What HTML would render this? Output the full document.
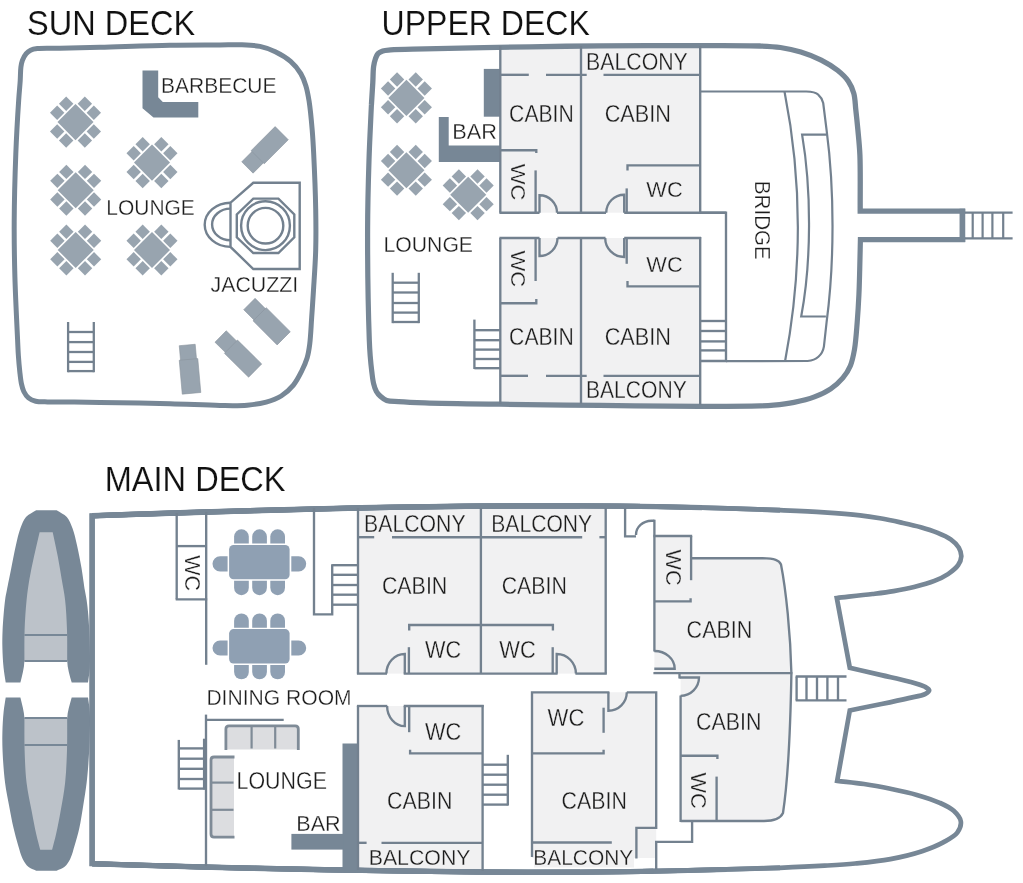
<!DOCTYPE html>
<html><head><meta charset="utf-8"><title>Deck plan</title>
<style>html,body{margin:0;padding:0;background:#fff;}svg{display:block;filter:blur(0.3px);}text{font-family:"Liberation Sans",sans-serif;filter:grayscale(1);}</style>
</head><body>
<svg width="1023" height="883" viewBox="0 0 1023 883" >
<rect x="0" y="0" width="1023" height="883" fill="#ffffff"/>
<path d="M37.4,48.6 C42.71,47.95 51.4,48.46 60,48.3 C71.44,48.08 84.81,47.72 100,47.3 C120.09,46.75 148.62,45.58 170,45.2 C188.06,44.87 207.01,45 220,44.9 C228.3,44.83 233.67,44.44 240.4,44.7 C247,44.95 253.94,45.11 260,46.4 C265.49,47.57 270.34,49.31 275.3,51.7 C280.55,54.23 286.26,57.6 290.6,61.4 C294.67,64.96 298.21,69.32 300.8,73.6 C303.17,77.52 304.54,81.51 305.9,85.9 C307.37,90.66 308.16,95.27 309.1,101.2 C310.37,109.27 311.42,120.83 312.2,130 C312.91,138.36 313.22,144.36 313.7,154 C314.42,168.58 315.39,192.01 315.7,209 C315.97,223.67 316.07,236.42 315.7,250 C315.33,263.42 314.23,277.95 313.5,290 C312.9,299.94 312.33,308.13 311.7,317.2 C311.07,326.27 310.69,336.91 309.7,344.4 C309,349.74 308.44,353.54 307.1,358 C305.73,362.58 303.72,367.07 301.5,371.5 C299.19,376.11 296.74,381.04 293.4,385.1 C290,389.23 285.75,393.16 281.2,396 C276.68,398.82 271.59,400.59 266.2,402.1 C260.33,403.75 254.12,404.6 247.2,405.2 C238.97,405.91 230.43,405.63 220,405.5 C205.85,405.32 188.07,404.18 170,403.7 C148.63,403.13 118.46,402.81 100,402.5 C87.91,402.3 79.27,402.1 70,402 C61.99,401.92 53.89,402.07 47.6,401.9 C43.01,401.77 39.1,402.15 35.7,401.3 C32.92,400.6 30.48,399.54 28.5,397.9 C26.52,396.27 24.98,393.86 23.8,391.5 C22.6,389.1 22.04,386.53 21.4,383.6 C20.63,380.07 20.27,375.95 19.8,371.7 C19.26,366.81 18.77,361.18 18.4,355.9 C18.03,350.61 17.93,347.06 17.6,340 C16.95,325.96 15.46,297.29 14.9,277 C14.37,258.05 14.1,241.3 14.2,222 C14.32,200.53 14.98,175.36 15.8,154 C16.54,134.96 17.81,113.44 18.7,100 C19.23,91.98 19.82,86.65 20.2,80.8 C20.52,75.88 20.4,70.94 20.9,67.2 C21.26,64.53 21.56,62.61 22.4,60.4 C23.29,58.07 24.68,55.37 26.2,53.6 C27.49,52.11 28.87,51.02 30.6,50.2 C32.54,49.28 34.45,48.96 37.4,48.6Z" fill="none" stroke="#778796" stroke-width="5" stroke-linejoin="round" stroke-linecap="butt"/>
<text x="27.1" y="34.5" font-size="34.67" textLength="168" lengthAdjust="spacingAndGlyphs" fill="#111" stroke="#ffffff" stroke-width="0.15">SUN DECK</text>
<polygon points="142.5,70.6 158.2,70.6 158.2,97.2 162.8,101.9 198.3,101.9 198.3,117.6 153.5,117.6 142.5,108.2" fill="#778796"/>
<text x="161" y="93" font-size="22.8" textLength="115.5" lengthAdjust="spacingAndGlyphs" fill="#1c1c1c" stroke="#ffffff" stroke-width="0.3">BARBECUE</text>
<g transform="translate(75.5,122.1) rotate(45)" fill="#98a4af">
<rect x="-12.75" y="-12.75" width="25.5" height="25.5" fill="#98a4af" stroke="none" stroke-width="0" rx="0"/>
<rect x="14.45" y="1.25" width="10.2" height="10.2" fill="#98a4af" stroke="none" stroke-width="0" rx="0"/>
<rect x="14.45" y="-11.45" width="10.2" height="10.2" fill="#98a4af" stroke="none" stroke-width="0" rx="0"/>
<rect x="-24.65" y="1.25" width="10.2" height="10.2" fill="#98a4af" stroke="none" stroke-width="0" rx="0"/>
<rect x="-24.65" y="-11.45" width="10.2" height="10.2" fill="#98a4af" stroke="none" stroke-width="0" rx="0"/>
<rect x="1.25" y="14.45" width="10.2" height="10.2" fill="#98a4af" stroke="none" stroke-width="0" rx="0"/>
<rect x="-11.45" y="14.45" width="10.2" height="10.2" fill="#98a4af" stroke="none" stroke-width="0" rx="0"/>
<rect x="1.25" y="-24.65" width="10.2" height="10.2" fill="#98a4af" stroke="none" stroke-width="0" rx="0"/>
<rect x="-11.45" y="-24.65" width="10.2" height="10.2" fill="#98a4af" stroke="none" stroke-width="0" rx="0"/>
</g>
<g transform="translate(75.7,190.2) rotate(45)" fill="#98a4af">
<rect x="-12.75" y="-12.75" width="25.5" height="25.5" fill="#98a4af" stroke="none" stroke-width="0" rx="0"/>
<rect x="14.45" y="1.25" width="10.2" height="10.2" fill="#98a4af" stroke="none" stroke-width="0" rx="0"/>
<rect x="14.45" y="-11.45" width="10.2" height="10.2" fill="#98a4af" stroke="none" stroke-width="0" rx="0"/>
<rect x="-24.65" y="1.25" width="10.2" height="10.2" fill="#98a4af" stroke="none" stroke-width="0" rx="0"/>
<rect x="-24.65" y="-11.45" width="10.2" height="10.2" fill="#98a4af" stroke="none" stroke-width="0" rx="0"/>
<rect x="1.25" y="14.45" width="10.2" height="10.2" fill="#98a4af" stroke="none" stroke-width="0" rx="0"/>
<rect x="-11.45" y="14.45" width="10.2" height="10.2" fill="#98a4af" stroke="none" stroke-width="0" rx="0"/>
<rect x="1.25" y="-24.65" width="10.2" height="10.2" fill="#98a4af" stroke="none" stroke-width="0" rx="0"/>
<rect x="-11.45" y="-24.65" width="10.2" height="10.2" fill="#98a4af" stroke="none" stroke-width="0" rx="0"/>
</g>
<g transform="translate(75.7,250) rotate(45)" fill="#98a4af">
<rect x="-12.75" y="-12.75" width="25.5" height="25.5" fill="#98a4af" stroke="none" stroke-width="0" rx="0"/>
<rect x="14.45" y="1.25" width="10.2" height="10.2" fill="#98a4af" stroke="none" stroke-width="0" rx="0"/>
<rect x="14.45" y="-11.45" width="10.2" height="10.2" fill="#98a4af" stroke="none" stroke-width="0" rx="0"/>
<rect x="-24.65" y="1.25" width="10.2" height="10.2" fill="#98a4af" stroke="none" stroke-width="0" rx="0"/>
<rect x="-24.65" y="-11.45" width="10.2" height="10.2" fill="#98a4af" stroke="none" stroke-width="0" rx="0"/>
<rect x="1.25" y="14.45" width="10.2" height="10.2" fill="#98a4af" stroke="none" stroke-width="0" rx="0"/>
<rect x="-11.45" y="14.45" width="10.2" height="10.2" fill="#98a4af" stroke="none" stroke-width="0" rx="0"/>
<rect x="1.25" y="-24.65" width="10.2" height="10.2" fill="#98a4af" stroke="none" stroke-width="0" rx="0"/>
<rect x="-11.45" y="-24.65" width="10.2" height="10.2" fill="#98a4af" stroke="none" stroke-width="0" rx="0"/>
</g>
<g transform="translate(152,162.6) rotate(45)" fill="#98a4af">
<rect x="-12.75" y="-12.75" width="25.5" height="25.5" fill="#98a4af" stroke="none" stroke-width="0" rx="0"/>
<rect x="14.45" y="1.25" width="10.2" height="10.2" fill="#98a4af" stroke="none" stroke-width="0" rx="0"/>
<rect x="14.45" y="-11.45" width="10.2" height="10.2" fill="#98a4af" stroke="none" stroke-width="0" rx="0"/>
<rect x="-24.65" y="1.25" width="10.2" height="10.2" fill="#98a4af" stroke="none" stroke-width="0" rx="0"/>
<rect x="-24.65" y="-11.45" width="10.2" height="10.2" fill="#98a4af" stroke="none" stroke-width="0" rx="0"/>
<rect x="1.25" y="14.45" width="10.2" height="10.2" fill="#98a4af" stroke="none" stroke-width="0" rx="0"/>
<rect x="-11.45" y="14.45" width="10.2" height="10.2" fill="#98a4af" stroke="none" stroke-width="0" rx="0"/>
<rect x="1.25" y="-24.65" width="10.2" height="10.2" fill="#98a4af" stroke="none" stroke-width="0" rx="0"/>
<rect x="-11.45" y="-24.65" width="10.2" height="10.2" fill="#98a4af" stroke="none" stroke-width="0" rx="0"/>
</g>
<g transform="translate(152,250) rotate(45)" fill="#98a4af">
<rect x="-12.75" y="-12.75" width="25.5" height="25.5" fill="#98a4af" stroke="none" stroke-width="0" rx="0"/>
<rect x="14.45" y="1.25" width="10.2" height="10.2" fill="#98a4af" stroke="none" stroke-width="0" rx="0"/>
<rect x="14.45" y="-11.45" width="10.2" height="10.2" fill="#98a4af" stroke="none" stroke-width="0" rx="0"/>
<rect x="-24.65" y="1.25" width="10.2" height="10.2" fill="#98a4af" stroke="none" stroke-width="0" rx="0"/>
<rect x="-24.65" y="-11.45" width="10.2" height="10.2" fill="#98a4af" stroke="none" stroke-width="0" rx="0"/>
<rect x="1.25" y="14.45" width="10.2" height="10.2" fill="#98a4af" stroke="none" stroke-width="0" rx="0"/>
<rect x="-11.45" y="14.45" width="10.2" height="10.2" fill="#98a4af" stroke="none" stroke-width="0" rx="0"/>
<rect x="1.25" y="-24.65" width="10.2" height="10.2" fill="#98a4af" stroke="none" stroke-width="0" rx="0"/>
<rect x="-11.45" y="-24.65" width="10.2" height="10.2" fill="#98a4af" stroke="none" stroke-width="0" rx="0"/>
</g>
<text x="106.3" y="215.3" font-size="22.34" textLength="88.5" lengthAdjust="spacingAndGlyphs" fill="#1c1c1c" stroke="#ffffff" stroke-width="0.3">LOUNGE</text>
<path d="M299.7,182.8 L253.3,182.8 L230.5,202.7 L230.5,246.9 L253.3,269 L299.7,269 Z" fill="none" stroke="#73818f" stroke-width="2.4" stroke-linejoin="miter" stroke-linecap="butt"/>
<polygon points="253.3,198.6 278.4,198.6 294.3,214.5 294.3,237.3 278.4,253 253.3,253 236.8,237.3 236.8,214.5" fill="none" stroke="#73818f" stroke-width="2.4"/>
<circle cx="265.5" cy="225.7" r="24.4" fill="none" stroke="#73818f" stroke-width="2.4"/>
<circle cx="265.5" cy="225.7" r="17.8" fill="none" stroke="#73818f" stroke-width="2.4"/>
<path d="M230.5,202.7 A25.8,22.1 0 0 0 230.5,246.9" fill="none" stroke="#73818f" stroke-width="2.4" stroke-linejoin="round" stroke-linecap="butt"/>
<path d="M230.5,208.6 A18.4,15.85 0 0 0 230.5,240.3" fill="none" stroke="#73818f" stroke-width="2.4" stroke-linejoin="round" stroke-linecap="butt"/>
<text x="210.5" y="291.5" font-size="22.8" textLength="87.8" lengthAdjust="spacingAndGlyphs" fill="#1c1c1c" stroke="#ffffff" stroke-width="0.3">JACUZZI</text>
<g transform="translate(247.2,167.7) rotate(-45)" fill="#98a4af" stroke="#8a949e" stroke-width="0.6">
<rect x="0.3" y="-8" width="15.5" height="16"/>
<rect x="14.8" y="-9.3" width="34" height="18.6"/>
</g>
<g transform="translate(249.2,303.8) rotate(45)" fill="#98a4af" stroke="#8a949e" stroke-width="0.6">
<rect x="0.3" y="-8" width="15.5" height="16"/>
<rect x="14.8" y="-9.3" width="34" height="18.6"/>
</g>
<g transform="translate(220.4,336.3) rotate(44.6)" fill="#98a4af" stroke="#8a949e" stroke-width="0.6">
<rect x="0.3" y="-8" width="15.5" height="16"/>
<rect x="14.8" y="-9.3" width="34" height="18.6"/>
</g>
<g transform="translate(187.2,344.7) rotate(84.9)" fill="#98a4af" stroke="#8a949e" stroke-width="0.6">
<rect x="0.3" y="-8" width="15.5" height="16"/>
<rect x="14.8" y="-9.3" width="34" height="18.6"/>
</g>
<line x1="68.1" y1="322" x2="68.1" y2="372.25" stroke="#73818f" stroke-width="2.3" stroke-linecap="butt"/>
<line x1="93.8" y1="322" x2="93.8" y2="372.25" stroke="#73818f" stroke-width="2.3" stroke-linecap="butt"/>
<line x1="68.1" y1="332" x2="93.8" y2="332" stroke="#73818f" stroke-width="2.3" stroke-linecap="butt"/>
<line x1="68.1" y1="342.1" x2="93.8" y2="342.1" stroke="#73818f" stroke-width="2.3" stroke-linecap="butt"/>
<line x1="68.1" y1="352" x2="93.8" y2="352" stroke="#73818f" stroke-width="2.3" stroke-linecap="butt"/>
<line x1="68.1" y1="361.9" x2="93.8" y2="361.9" stroke="#73818f" stroke-width="2.3" stroke-linecap="butt"/>
<line x1="68.1" y1="371.1" x2="93.8" y2="371.1" stroke="#73818f" stroke-width="2.3" stroke-linecap="butt"/>
<rect x="500.3" y="46" width="200" height="166.7" fill="#f1f1f2" stroke="none" stroke-width="0" rx="0"/>
<rect x="500.3" y="238" width="200" height="167" fill="#f1f1f2" stroke="none" stroke-width="0" rx="0"/>
<path d="M371.4,105 C371.87,97.53 372.41,89.43 372.8,82.6 C373.12,76.85 373,71.06 373.6,66.7 C374.03,63.59 374.57,61.12 375.4,58.8 C376.1,56.84 376.74,54.92 378,53.6 C379.23,52.31 380.93,51.52 382.8,50.9 C385.05,50.16 387.13,50.18 390.7,49.9 C398.11,49.32 410.45,49.26 425,48.9 C450.46,48.27 498.53,47.32 530,46.8 C555.69,46.38 574.59,46.1 600,45.9 C630.37,45.66 670.9,45.55 700,45.6 C722.54,45.64 745.27,45.41 760,46 C768.6,46.34 773.64,46.51 780.4,47.5 C787.24,48.5 794.08,49.94 800.8,52 C807.69,54.11 814.91,56.92 821.2,60.1 C827.08,63.08 832.81,66.55 837.5,70.3 C841.69,73.65 845.55,77.19 848.3,81.2 C850.87,84.94 852.55,88.94 853.8,93.4 C855.18,98.35 855.15,103.96 855.8,109.7 C856.52,116.12 857.25,122.96 857.9,130.1 C858.62,137.98 859.47,145.03 859.9,155 C860.54,169.94 860.1,192.4 860.2,211.1 L965.2,211.1 " fill="none" stroke="#778796" stroke-width="5.3" stroke-linejoin="miter" stroke-linecap="butt"/>
<path d="M965.2,239.6 L860.4,239.6 C860.17,249.73 859.97,260.36 859.7,270 C859.46,278.74 859.3,286.49 858.9,295 C858.48,303.88 857.93,313.14 857.2,322.2 C856.47,331.27 855.87,341.53 854.5,349.4 C853.42,355.57 852.46,360.8 850.4,365.7 C848.49,370.22 846.03,374.16 842.9,377.9 C839.55,381.9 835.29,385.69 830.7,388.8 C825.85,392.08 820.26,394.68 814.4,396.9 C808.09,399.29 800.84,401.01 794,402.4 C787.24,403.77 779.72,404.62 773.6,405.2 C768.62,405.67 766.15,405.72 760,405.9 C747.1,406.27 722.54,406.33 700,406.3 C670.9,406.27 633.33,405.75 600,405.4 C566.67,405.05 530.94,404.67 500,404.2 C473.2,403.79 443.62,403.4 425,402.8 C413.95,402.45 405.67,402.09 398.6,401.6 C393.85,401.27 389.93,401.64 386.7,400.5 C384.13,399.59 382.17,397.89 380.4,396.3 C378.79,394.86 377.49,393.41 376.4,391.5 C375.14,389.29 374.34,386.54 373.6,383.6 C372.72,380.08 372.34,375.95 371.8,371.7 C371.18,366.81 370.62,361.18 370.2,355.9 C369.78,350.61 369.58,347.68 369.3,340 C368.57,319.8 367.53,262.54 367.6,230 C367.66,204.04 368.3,181.92 369,160 C369.62,140.56 370.6,123.33 371.4,105 " fill="none" stroke="#778796" stroke-width="5.2" stroke-linejoin="miter" stroke-linecap="butt"/>
<line x1="962.4" y1="208.7" x2="962.4" y2="242" stroke="#778796" stroke-width="5.7" stroke-linecap="butt"/>
<line x1="965" y1="212.6" x2="1012.6" y2="212.6" stroke="#73818f" stroke-width="2.2" stroke-linecap="butt"/>
<line x1="965" y1="238.3" x2="1012.6" y2="238.3" stroke="#73818f" stroke-width="2.2" stroke-linecap="butt"/>
<line x1="972.7" y1="212.6" x2="972.7" y2="238.3" stroke="#73818f" stroke-width="2.2" stroke-linecap="butt"/>
<line x1="982.6" y1="212.6" x2="982.6" y2="238.3" stroke="#73818f" stroke-width="2.2" stroke-linecap="butt"/>
<line x1="992.4" y1="212.6" x2="992.4" y2="238.3" stroke="#73818f" stroke-width="2.2" stroke-linecap="butt"/>
<line x1="1003.2" y1="212.6" x2="1003.2" y2="238.3" stroke="#73818f" stroke-width="2.2" stroke-linecap="butt"/>
<text x="381.6" y="34.7" font-size="34.67" textLength="208.2" lengthAdjust="spacingAndGlyphs" fill="#111" stroke="#ffffff" stroke-width="0.15">UPPER DECK</text>
<g transform="translate(406.4,97.9) rotate(45)" fill="#98a4af">
<rect x="-12.75" y="-12.75" width="25.5" height="25.5" fill="#98a4af" stroke="none" stroke-width="0" rx="0"/>
<rect x="14.45" y="1.25" width="10.2" height="10.2" fill="#98a4af" stroke="none" stroke-width="0" rx="0"/>
<rect x="14.45" y="-11.45" width="10.2" height="10.2" fill="#98a4af" stroke="none" stroke-width="0" rx="0"/>
<rect x="-24.65" y="1.25" width="10.2" height="10.2" fill="#98a4af" stroke="none" stroke-width="0" rx="0"/>
<rect x="-24.65" y="-11.45" width="10.2" height="10.2" fill="#98a4af" stroke="none" stroke-width="0" rx="0"/>
<rect x="1.25" y="14.45" width="10.2" height="10.2" fill="#98a4af" stroke="none" stroke-width="0" rx="0"/>
<rect x="-11.45" y="14.45" width="10.2" height="10.2" fill="#98a4af" stroke="none" stroke-width="0" rx="0"/>
<rect x="1.25" y="-24.65" width="10.2" height="10.2" fill="#98a4af" stroke="none" stroke-width="0" rx="0"/>
<rect x="-11.45" y="-24.65" width="10.2" height="10.2" fill="#98a4af" stroke="none" stroke-width="0" rx="0"/>
</g>
<g transform="translate(406.4,170.3) rotate(45)" fill="#98a4af">
<rect x="-12.75" y="-12.75" width="25.5" height="25.5" fill="#98a4af" stroke="none" stroke-width="0" rx="0"/>
<rect x="14.45" y="1.25" width="10.2" height="10.2" fill="#98a4af" stroke="none" stroke-width="0" rx="0"/>
<rect x="14.45" y="-11.45" width="10.2" height="10.2" fill="#98a4af" stroke="none" stroke-width="0" rx="0"/>
<rect x="-24.65" y="1.25" width="10.2" height="10.2" fill="#98a4af" stroke="none" stroke-width="0" rx="0"/>
<rect x="-24.65" y="-11.45" width="10.2" height="10.2" fill="#98a4af" stroke="none" stroke-width="0" rx="0"/>
<rect x="1.25" y="14.45" width="10.2" height="10.2" fill="#98a4af" stroke="none" stroke-width="0" rx="0"/>
<rect x="-11.45" y="14.45" width="10.2" height="10.2" fill="#98a4af" stroke="none" stroke-width="0" rx="0"/>
<rect x="1.25" y="-24.65" width="10.2" height="10.2" fill="#98a4af" stroke="none" stroke-width="0" rx="0"/>
<rect x="-11.45" y="-24.65" width="10.2" height="10.2" fill="#98a4af" stroke="none" stroke-width="0" rx="0"/>
</g>
<g transform="translate(468.2,194.8) rotate(45)" fill="#98a4af">
<rect x="-12.75" y="-12.75" width="25.5" height="25.5" fill="#98a4af" stroke="none" stroke-width="0" rx="0"/>
<rect x="14.45" y="1.25" width="10.2" height="10.2" fill="#98a4af" stroke="none" stroke-width="0" rx="0"/>
<rect x="14.45" y="-11.45" width="10.2" height="10.2" fill="#98a4af" stroke="none" stroke-width="0" rx="0"/>
<rect x="-24.65" y="1.25" width="10.2" height="10.2" fill="#98a4af" stroke="none" stroke-width="0" rx="0"/>
<rect x="-24.65" y="-11.45" width="10.2" height="10.2" fill="#98a4af" stroke="none" stroke-width="0" rx="0"/>
<rect x="1.25" y="14.45" width="10.2" height="10.2" fill="#98a4af" stroke="none" stroke-width="0" rx="0"/>
<rect x="-11.45" y="14.45" width="10.2" height="10.2" fill="#98a4af" stroke="none" stroke-width="0" rx="0"/>
<rect x="1.25" y="-24.65" width="10.2" height="10.2" fill="#98a4af" stroke="none" stroke-width="0" rx="0"/>
<rect x="-11.45" y="-24.65" width="10.2" height="10.2" fill="#98a4af" stroke="none" stroke-width="0" rx="0"/>
</g>
<rect x="483.8" y="68.9" width="16.5" height="47.8" fill="#778796" stroke="none" stroke-width="0" rx="0"/>
<polygon points="438.8,117.1 448.7,117.1 448.7,145.4 500.3,145.4 500.3,162 438.8,162" fill="#778796"/>
<text x="452.2" y="139.1" font-size="22.65" textLength="44.7" lengthAdjust="spacingAndGlyphs" fill="#1c1c1c" stroke="#ffffff" stroke-width="0.3">BAR</text>
<text x="383.5" y="251.5" font-size="22.34" textLength="89.5" lengthAdjust="spacingAndGlyphs" fill="#1c1c1c" stroke="#ffffff" stroke-width="0.3">LOUNGE</text>
<line x1="392.7" y1="272.8" x2="392.7" y2="323.15" stroke="#73818f" stroke-width="2.3" stroke-linecap="butt"/>
<line x1="418.8" y1="272.8" x2="418.8" y2="323.15" stroke="#73818f" stroke-width="2.3" stroke-linecap="butt"/>
<line x1="392.7" y1="282.7" x2="418.8" y2="282.7" stroke="#73818f" stroke-width="2.3" stroke-linecap="butt"/>
<line x1="392.7" y1="292.5" x2="418.8" y2="292.5" stroke="#73818f" stroke-width="2.3" stroke-linecap="butt"/>
<line x1="392.7" y1="303" x2="418.8" y2="303" stroke="#73818f" stroke-width="2.3" stroke-linecap="butt"/>
<line x1="392.7" y1="312.6" x2="418.8" y2="312.6" stroke="#73818f" stroke-width="2.3" stroke-linecap="butt"/>
<line x1="392.7" y1="322" x2="418.8" y2="322" stroke="#73818f" stroke-width="2.3" stroke-linecap="butt"/>
<line x1="500.3" y1="46" x2="500.3" y2="212.7" stroke="#73818f" stroke-width="2.35" stroke-linecap="butt"/>
<line x1="581" y1="46" x2="581" y2="212.7" stroke="#73818f" stroke-width="2.35" stroke-linecap="butt"/>
<line x1="700.2" y1="46" x2="700.2" y2="213.7" stroke="#73818f" stroke-width="2.35" stroke-linecap="butt"/>
<line x1="700.2" y1="237" x2="700.2" y2="405" stroke="#73818f" stroke-width="2.35" stroke-linecap="butt"/>
<line x1="499.4" y1="212.7" x2="539.5" y2="212.7" stroke="#73818f" stroke-width="2.35" stroke-linecap="butt"/>
<line x1="557" y1="212.7" x2="606" y2="212.7" stroke="#73818f" stroke-width="2.35" stroke-linecap="butt"/>
<line x1="624.2" y1="212.7" x2="726" y2="212.7" stroke="#73818f" stroke-width="2.35" stroke-linecap="butt"/>
<line x1="500.3" y1="74.8" x2="528.8" y2="74.8" stroke="#73818f" stroke-width="2.35" stroke-linecap="butt"/>
<line x1="546" y1="74.8" x2="586.7" y2="74.8" stroke="#73818f" stroke-width="2.35" stroke-linecap="butt"/>
<line x1="603.5" y1="74.8" x2="700.2" y2="74.8" stroke="#73818f" stroke-width="2.35" stroke-linecap="butt"/>
<polyline points="500.3,150.2 536.3,150.2 536.3,153" fill="none" stroke="#73818f" stroke-width="2.35" stroke-linejoin="miter"/>
<line x1="535.6" y1="170.4" x2="535.6" y2="212.7" stroke="#73818f" stroke-width="2.35" stroke-linecap="butt"/>
<path d="M539.5,212.7 L539.5,195.2 A17.5,17.5 0 0 1 557,212.7" fill="none" stroke="#73818f" stroke-width="2.35" stroke-linejoin="miter" stroke-linecap="butt"/>
<polyline points="627.5,170.4 627.5,165.4 700.2,165.4" fill="none" stroke="#73818f" stroke-width="2.35" stroke-linejoin="miter"/>
<line x1="626.7" y1="188.4" x2="626.7" y2="212.7" stroke="#73818f" stroke-width="2.35" stroke-linecap="butt"/>
<path d="M624.2,212.7 L624.2,194.7 A18,18 0 0 0 606.2,212.7" fill="none" stroke="#73818f" stroke-width="2.35" stroke-linejoin="miter" stroke-linecap="butt"/>
<line x1="500.3" y1="238" x2="500.3" y2="404" stroke="#73818f" stroke-width="2.35" stroke-linecap="butt"/>
<line x1="581" y1="238" x2="581" y2="404" stroke="#73818f" stroke-width="2.35" stroke-linecap="butt"/>
<line x1="499.4" y1="238" x2="539.5" y2="238" stroke="#73818f" stroke-width="2.35" stroke-linecap="butt"/>
<line x1="557.5" y1="238" x2="605.5" y2="238" stroke="#73818f" stroke-width="2.35" stroke-linecap="butt"/>
<line x1="624.2" y1="238" x2="701.1" y2="238" stroke="#73818f" stroke-width="2.35" stroke-linecap="butt"/>
<line x1="500.3" y1="375.8" x2="528" y2="375.8" stroke="#73818f" stroke-width="2.35" stroke-linecap="butt"/>
<line x1="546" y1="375.8" x2="586.7" y2="375.8" stroke="#73818f" stroke-width="2.35" stroke-linecap="butt"/>
<line x1="603.5" y1="375.8" x2="700.2" y2="375.8" stroke="#73818f" stroke-width="2.35" stroke-linecap="butt"/>
<line x1="535.6" y1="238" x2="535.6" y2="281" stroke="#73818f" stroke-width="2.35" stroke-linecap="butt"/>
<polyline points="500.3,303.2 536.3,303.2 536.3,299" fill="none" stroke="#73818f" stroke-width="2.35" stroke-linejoin="miter"/>
<path d="M539.5,238 L539.5,256 A18,18 0 0 0 557.5,238" fill="none" stroke="#73818f" stroke-width="2.35" stroke-linejoin="miter" stroke-linecap="butt"/>
<line x1="626.7" y1="238" x2="626.7" y2="263.8" stroke="#73818f" stroke-width="2.35" stroke-linecap="butt"/>
<polyline points="627.5,281 627.5,286.3 700.2,286.3" fill="none" stroke="#73818f" stroke-width="2.35" stroke-linejoin="miter"/>
<path d="M624.2,238 L624.2,257 A19,19 0 0 1 605.2,238" fill="none" stroke="#73818f" stroke-width="2.35" stroke-linejoin="miter" stroke-linecap="butt"/>
<polyline points="700.2,212.7 726,212.7 726,361 700.2,361" fill="none" stroke="#73818f" stroke-width="2.35" stroke-linejoin="miter"/>
<line x1="700.2" y1="321" x2="726" y2="321" stroke="#73818f" stroke-width="2.35" stroke-linecap="butt"/>
<line x1="700.2" y1="331" x2="726" y2="331" stroke="#73818f" stroke-width="2.35" stroke-linecap="butt"/>
<line x1="700.2" y1="341.4" x2="726" y2="341.4" stroke="#73818f" stroke-width="2.35" stroke-linecap="butt"/>
<line x1="700.2" y1="350.4" x2="726" y2="350.4" stroke="#73818f" stroke-width="2.35" stroke-linecap="butt"/>
<line x1="474.4" y1="319.6" x2="474.4" y2="369" stroke="#73818f" stroke-width="2.35" stroke-linecap="butt"/>
<line x1="474.4" y1="330.2" x2="500.3" y2="330.2" stroke="#73818f" stroke-width="2.35" stroke-linecap="butt"/>
<line x1="474.4" y1="340.2" x2="500.3" y2="340.2" stroke="#73818f" stroke-width="2.35" stroke-linecap="butt"/>
<line x1="474.4" y1="349.6" x2="500.3" y2="349.6" stroke="#73818f" stroke-width="2.35" stroke-linecap="butt"/>
<line x1="474.4" y1="359" x2="500.3" y2="359" stroke="#73818f" stroke-width="2.35" stroke-linecap="butt"/>
<line x1="474.4" y1="368.2" x2="500.3" y2="368.2" stroke="#73818f" stroke-width="2.35" stroke-linecap="butt"/>
<path d="M700.2,91.5 L806.2,91.5 C813,91.6 816,92.5 818.4,94.8 C821,97 822.4,99.5 823.2,103 L826.6,130.1 C834.5,190 834.5,262 826.6,322.2 L823.9,346.6 C823,352 821,354.5 818.4,356.8 C816,359 813,360.5 807.6,361 L726,361.2" fill="none" stroke="#73818f" stroke-width="2.2" stroke-linejoin="round" stroke-linecap="butt"/>
<path d="M784.5,91.5 C802,180 802,272 785.1,361" fill="none" stroke="#73818f" stroke-width="2.2" stroke-linejoin="round" stroke-linecap="butt"/>
<path d="M826.6,134.6 L802.1,134.6 C811.5,190 811.5,262 801.2,316.5 L825.9,316.5" fill="none" stroke="#73818f" stroke-width="2.2" stroke-linejoin="miter" stroke-linecap="butt"/>
<text transform="translate(755.1,180.8) rotate(90)" x="0" y="0" font-size="22.07" textLength="79" lengthAdjust="spacingAndGlyphs" fill="#1c1c1c" stroke="#ffffff" stroke-width="0.3">BRIDGE</text>
<text x="586" y="69.5" font-size="23.42" textLength="101.8" lengthAdjust="spacingAndGlyphs" fill="#1c1c1c" stroke="#f1f1f2" stroke-width="0.3">BALCONY</text>
<text x="509.1" y="121.9" font-size="23.88" textLength="64.7" lengthAdjust="spacingAndGlyphs" fill="#1c1c1c" stroke="#f1f1f2" stroke-width="0.3">CABIN</text>
<text x="604.7" y="121.9" font-size="23.88" textLength="66.3" lengthAdjust="spacingAndGlyphs" fill="#1c1c1c" stroke="#f1f1f2" stroke-width="0.3">CABIN</text>
<text x="646.3" y="197.4" font-size="22.8" textLength="36.4" lengthAdjust="spacingAndGlyphs" fill="#1c1c1c" stroke="#f1f1f2" stroke-width="0.3">WC</text>
<text transform="translate(511.3,163.7) rotate(90)" x="0" y="0" font-size="20.63" textLength="36.6" lengthAdjust="spacingAndGlyphs" fill="#1c1c1c" stroke="#f1f1f2" stroke-width="0.3">WC</text>
<text x="646.3" y="271.8" font-size="22.8" textLength="36.4" lengthAdjust="spacingAndGlyphs" fill="#1c1c1c" stroke="#f1f1f2" stroke-width="0.3">WC</text>
<text transform="translate(511.3,250.6) rotate(90)" x="0" y="0" font-size="20.63" textLength="36.6" lengthAdjust="spacingAndGlyphs" fill="#1c1c1c" stroke="#f1f1f2" stroke-width="0.3">WC</text>
<text x="509.1" y="344.6" font-size="23.88" textLength="64.7" lengthAdjust="spacingAndGlyphs" fill="#1c1c1c" stroke="#f1f1f2" stroke-width="0.3">CABIN</text>
<text x="604.7" y="344.6" font-size="23.88" textLength="66.3" lengthAdjust="spacingAndGlyphs" fill="#1c1c1c" stroke="#f1f1f2" stroke-width="0.3">CABIN</text>
<text x="586" y="398" font-size="23.42" textLength="100.7" lengthAdjust="spacingAndGlyphs" fill="#1c1c1c" stroke="#f1f1f2" stroke-width="0.3">BALCONY</text>
<path d="M36.2,510.2 C32.8,512.47 28.63,514.01 26,517 C23.34,520.03 21.99,524.06 20.4,528.3 C18.52,533.31 17.32,539.2 15.9,545.3 C14.27,552.3 12.82,560.44 11.3,568 C9.79,575.54 7.92,584.69 6.8,590.6 C6.08,594.41 5.63,595.97 5.1,600 C4.16,607.16 3.01,621.26 2.6,630 C2.28,636.76 2.25,641.84 2.4,648 C2.56,654.49 2.97,661.88 3.6,668 C4.14,673.23 5,677.67 5.7,682.5 L20.4,682.5 C22,676 24.2,668 24.4,661 L67.2,661 C67.4,668 69.8,676 71.7,682.5 L88,682.5 C88.6,677.67 89.47,673.63 89.8,668 C90.25,660.2 89.87,649.07 89.6,640 C89.35,631.43 88.9,622.27 88.3,615 C87.83,609.36 87.25,604.41 86.6,600 C86.08,596.49 85.53,594.42 84.9,590.6 C83.92,584.7 82.81,575.53 81.5,568 C80.18,560.43 78.62,552.3 77,545.3 C75.59,539.2 74.4,533.3 72.5,528.3 C70.89,524.06 69.48,520.03 66.8,517 C64.16,514.02 60,512.47 56.6,510.2 Z" fill="#788897"/>
<path d="M39.6,532.3 C37.73,540.4 35.73,548.63 34,556.6 C32.34,564.28 30.65,571.89 29.4,579.3 C28.21,586.34 27.36,592.45 26.6,600 C25.69,609.06 24.97,619.9 24.6,630 C24.23,640.27 24.47,650.73 24.4,661.1 L67.2,661.1 C67.13,650.73 67.36,640.27 67,630 C66.65,619.9 66.13,609.05 65.1,600 C64.24,592.44 62.89,586.36 61.7,579.3 C60.46,571.91 59.27,564.28 57.8,556.6 C56.28,548.62 54.4,540.4 52.7,532.3 Z" fill="#bcc2c9"/>
<line x1="24.4" y1="635" x2="67.2" y2="635" stroke="#788897" stroke-width="2" stroke-linecap="butt"/>
<line x1="24.4" y1="661.1" x2="67.2" y2="661.1" stroke="#788897" stroke-width="2" stroke-linecap="butt"/>
<path d="M20.4,697.4 L5.7,697.4 C5,702.27 4.14,706.74 3.6,712 C2.98,718.13 2.57,725.33 2.4,732 C2.23,738.66 2.27,744.61 2.6,752 C3.02,761.21 3.88,773.5 5.1,783 C6.15,791.18 7.68,798.15 9.1,805.7 C10.52,813.25 11.98,821.33 13.6,828.3 C15.01,834.39 16.5,839.97 18.1,845.3 C19.55,850.11 20.76,855.1 22.7,858.9 C24.29,862.02 25.98,864.8 28.3,866.8 C30.52,868.71 33.57,869.47 36.2,870.8 L56.6,870.8 C59.27,869.47 62.36,868.72 64.6,866.8 C66.93,864.8 68.62,862.03 70.2,858.9 C72.12,855.1 73.26,850.11 74.7,845.3 C76.3,839.97 77.95,834.4 79.3,828.3 C80.84,821.34 81.98,813.25 83.2,805.7 C84.42,798.15 85.73,790.14 86.6,783 C87.37,776.66 87.82,771.5 88.3,765 C88.86,757.35 89.35,748.57 89.6,740 C89.87,730.93 90.25,719.81 89.8,712 C89.47,706.34 88.6,702.27 88,697.4 L71.7,697.4 C69.8,704 67.4,712 67.2,718 L24.4,718 C24.2,712 22,704 20.4,697.4 Z" fill="#788897"/>
<path d="M24.4,717.7 C24.47,728.47 24.24,739.18 24.6,750 C24.97,760.95 25.34,772.46 26.6,783 C27.78,792.83 30.01,802.39 31.7,811.3 C33.21,819.29 34.65,827.14 36.2,834 C37.5,839.76 38.87,844.53 40.2,849.8 L52.1,849.8 C53.43,844.53 54.8,839.76 56.1,834 C57.65,827.14 59.17,819.3 60.6,811.3 C62.19,802.4 64.04,792.82 65.1,783 C66.24,772.45 66.65,760.95 67,750 C67.34,739.18 67.13,728.47 67.2,717.7 Z" fill="#bcc2c9"/>
<line x1="24.4" y1="718" x2="67.2" y2="718" stroke="#788897" stroke-width="2" stroke-linecap="butt"/>
<line x1="24.4" y1="745" x2="67.2" y2="745" stroke="#788897" stroke-width="2" stroke-linecap="butt"/>
<rect x="358" y="507" width="247.7" height="166.6" fill="#f1f1f2" stroke="none" stroke-width="0" rx="0"/>
<rect x="358" y="706" width="124.6" height="165" fill="#f1f1f2" stroke="none" stroke-width="0" rx="0"/>
<polygon points="532,692.3 656.2,692.3 656.2,858 532,858" fill="#f1f1f2"/>
<rect x="534" y="858" width="100" height="9.5" fill="#f1f1f2" stroke="none" stroke-width="0" rx="0"/>
<path d="M654.4,536 L691.1,536 L691.1,558.2 L762.4,558.2 C775,558.5 779,560 781,564.5 C786,590 790.5,634 791.4,673.2 L654.4,673.2 Z" fill="#f1f1f2"/>
<path d="M680.6,673.2 L791.4,673.2 C791,720 789.5,770 783,814 C780,819.5 772,821 764,821 L680.8,821 Z" fill="#f1f1f2"/>
<path d="M92.2,515.8 C128.8,514.57 164.43,513.24 202,512.1 C241.59,510.9 289.53,509.66 324,508.8 C349.35,508.17 366.3,507.73 390,507.3 C417.68,506.8 449.21,506.34 480,506.1 C512.45,505.85 550.9,505.81 580,505.9 C602.54,505.97 619.84,506.12 640,506.4 C660.5,506.68 680.15,507.02 702,507.6 C726.51,508.25 757.7,509.3 780,510.2 C796.75,510.88 810.08,511.39 824,512.3 C836.61,513.13 849.77,514.11 860,515.3 C867.66,516.19 873.31,517.13 880,518.3 C886.78,519.49 893.61,520.92 900.4,522.4 C907.21,523.89 914.42,525.4 920.8,527.2 C926.58,528.83 931.98,530.49 937.1,532.6 C941.91,534.59 946.93,536.67 950.7,539.4 C953.98,541.78 957.03,544.57 958.8,547.6 C960.37,550.3 961.4,553.48 961.3,556.4 C961.19,559.35 959.96,562.48 958.1,565.2 C955.87,568.47 951.8,571.54 948,574.1 C943.96,576.82 939.49,578.88 934.4,580.9 C928.38,583.29 920.84,585.29 914,587 C907.24,588.69 900.48,589.94 893.6,591.1 C886.64,592.28 880.46,593.01 872.5,594 C862.16,595.29 848.7,596.67 836.8,598 L849.8,667.8 C860.37,670.23 871.34,672.75 881.5,675.1 C890.91,677.27 900.83,679.19 908.7,681.4 C914.87,683.13 921.45,684.83 925,686.8 C927,687.91 929.18,689.09 929.2,690.3 C929.22,691.53 927.05,693.01 925,694.1 C921.48,695.97 914.84,696.68 908.7,698.1 C900.8,699.93 890.92,702.03 881.5,704 C871.34,706.13 860.37,708.27 849.8,710.4 L837.2,780.8 C846.13,781.87 855.12,782.66 864,784 C872.85,785.33 881.62,786.99 890.4,788.8 C899.22,790.62 908.37,792.48 916.8,794.9 C924.77,797.19 933.12,799.82 939.7,802.8 C945.07,805.23 950.09,807.45 953.7,810.8 C956.9,813.77 960.25,817.59 960.8,821.3 C961.34,824.9 959.72,829.4 957.3,832.7 C954.4,836.65 948.54,839.49 943.2,842.4 C937.03,845.76 929.96,848.6 922.1,851.2 C912.71,854.31 901.31,857.07 890.4,859.1 C879.04,861.22 866.56,862.39 855.2,863.5 C844.6,864.54 835.61,865.03 824.4,865.7 C810.95,866.5 795.49,867.2 780,867.8 C763.02,868.46 745.81,868.88 726.6,869.4 C704.1,870.01 677.73,870.73 653.3,871.2 C628.87,871.67 606.33,872.05 580,872.2 C549.25,872.38 511.16,872.23 480,872 C452.66,871.8 428.8,871.38 403,871 C376.93,870.62 353.49,870.26 324.4,869.7 C288.1,869 241.69,868.03 202,867 C164.4,866.02 128.8,864.8 92.2,863.7 Z" fill="none" stroke="#778796" stroke-width="4.7" stroke-linejoin="miter" stroke-linecap="butt"/>
<line x1="92.1" y1="513.2" x2="92.1" y2="866.3" stroke="#778796" stroke-width="5.6" stroke-linecap="butt"/>
<path d="M92.2,515.8 C128.8,514.57 164.43,513.24 202,512.1 C241.59,510.9 289.53,509.66 324,508.8 C349.35,508.17 366.3,507.73 390,507.3 C417.68,506.8 449.21,506.34 480,506.1 C512.45,505.85 550.9,505.81 580,505.9 C602.54,505.97 619.84,506.12 640,506.4 C660.5,506.68 680.15,507.02 702,507.6 C726.51,508.25 757.7,509.3 780,510.2" fill="none" stroke="#778796" stroke-width="4.9" stroke-linejoin="round" stroke-linecap="butt"/>
<path d="M92.2,515.8 C128.8,514.57 164.43,513.24 202,512.1 C241.59,510.9 289.53,509.66 324,508.8 C349.35,508.17 366.3,507.73 390,507.3 C417.68,506.8 449.21,506.34 480,506.1 C512.45,505.85 550.9,505.81 580,505.9 C602.54,505.97 619.84,506.12 640,506.4 C660.5,506.68 680.15,507.02 702,507.6" fill="none" stroke="#778796" stroke-width="5.1" stroke-linejoin="round" stroke-linecap="butt"/>
<path d="M92.2,515.8 C128.8,514.57 164.43,513.24 202,512.1 C241.59,510.9 289.53,509.66 324,508.8 C349.35,508.17 366.3,507.73 390,507.3 C417.68,506.8 449.21,506.34 480,506.1 C512.45,505.85 550.9,505.81 580,505.9 C602.54,505.97 619.84,506.12 640,506.4" fill="none" stroke="#778796" stroke-width="5.35" stroke-linejoin="round" stroke-linecap="butt"/>
<path d="M92.2,515.8 C128.8,514.57 164.43,513.24 202,512.1 C241.59,510.9 289.53,509.66 324,508.8 C349.35,508.17 366.3,507.73 390,507.3 C417.68,506.8 449.21,506.34 480,506.1 C512.45,505.85 550.9,505.81 580,505.9" fill="none" stroke="#778796" stroke-width="5.6" stroke-linejoin="round" stroke-linecap="butt"/>
<path d="M780,867.8 C763.02,868.46 745.81,868.88 726.6,869.4 C704.1,870.01 677.73,870.73 653.3,871.2 C628.87,871.67 606.33,872.05 580,872.2 C549.25,872.38 511.16,872.23 480,872 C452.66,871.8 428.8,871.38 403,871 C376.93,870.62 353.49,870.26 324.4,869.7 C288.1,869 241.69,868.03 202,867 C164.4,866.02 128.8,864.8 92.2,863.7" fill="none" stroke="#778796" stroke-width="4.9" stroke-linejoin="round" stroke-linecap="butt"/>
<path d="M726.6,869.4 C704.1,870.01 677.73,870.73 653.3,871.2 C628.87,871.67 606.33,872.05 580,872.2 C549.25,872.38 511.16,872.23 480,872 C452.66,871.8 428.8,871.38 403,871 C376.93,870.62 353.49,870.26 324.4,869.7 C288.1,869 241.69,868.03 202,867 C164.4,866.02 128.8,864.8 92.2,863.7" fill="none" stroke="#778796" stroke-width="5" stroke-linejoin="round" stroke-linecap="butt"/>
<path d="M653.3,871.2 C628.87,871.67 606.33,872.05 580,872.2 C549.25,872.38 511.16,872.23 480,872 C452.66,871.8 428.8,871.38 403,871 C376.93,870.62 353.49,870.26 324.4,869.7 C288.1,869 241.69,868.03 202,867 C164.4,866.02 128.8,864.8 92.2,863.7" fill="none" stroke="#778796" stroke-width="5.2" stroke-linejoin="round" stroke-linecap="butt"/>
<path d="M580,872.2 C549.25,872.38 511.16,872.23 480,872 C452.66,871.8 428.8,871.38 403,871 C376.93,870.62 353.49,870.26 324.4,869.7 C288.1,869 241.69,868.03 202,867 C164.4,866.02 128.8,864.8 92.2,863.7" fill="none" stroke="#778796" stroke-width="5.4" stroke-linejoin="round" stroke-linecap="butt"/>
<text x="104.7" y="490.5" font-size="34.97" textLength="180.9" lengthAdjust="spacingAndGlyphs" fill="#111" stroke="#ffffff" stroke-width="0.15">MAIN DECK</text>
<line x1="176.7" y1="513" x2="176.7" y2="599.4" stroke="#73818f" stroke-width="2.35" stroke-linecap="butt"/>
<line x1="206.2" y1="512" x2="206.2" y2="664.8" stroke="#73818f" stroke-width="2.35" stroke-linecap="butt"/>
<line x1="176.7" y1="546.1" x2="206.2" y2="546.1" stroke="#73818f" stroke-width="2.35" stroke-linecap="butt"/>
<line x1="175.7" y1="599.3" x2="207.2" y2="599.3" stroke="#73818f" stroke-width="2.35" stroke-linecap="butt"/>
<text transform="translate(185,555.3) rotate(90)" x="0" y="0" font-size="21.49" textLength="35.8" lengthAdjust="spacingAndGlyphs" fill="#1c1c1c" stroke="#ffffff" stroke-width="0.3">WC</text>
<rect x="229.1" y="544.9" width="60.5" height="34.4" fill="#8fa0b3" stroke="none" stroke-width="0" rx="4.5"/>
<path d="M234.1,543.6 v-7 a7.35,7.35 0 0 1 14.7,0 v7 Z" fill="#8fa0b3"/>
<path d="M234.1,580.8 v7 a7.35,7.35 0 0 0 14.7,0 v-7 Z" fill="#8fa0b3"/>
<path d="M252.2,543.6 v-7 a7.35,7.35 0 0 1 14.7,0 v7 Z" fill="#8fa0b3"/>
<path d="M252.2,580.8 v7 a7.35,7.35 0 0 0 14.7,0 v-7 Z" fill="#8fa0b3"/>
<path d="M270.3,543.6 v-7 a7.35,7.35 0 0 1 14.7,0 v7 Z" fill="#8fa0b3"/>
<path d="M270.3,580.8 v7 a7.35,7.35 0 0 0 14.7,0 v-7 Z" fill="#8fa0b3"/>
<path d="M227.6,556.2 h-7.5 a7.6,7.6 0 0 0 0,15.2 h7.5 Z" fill="#8fa0b3"/>
<path d="M291.3,556.2 h7.3 a7.6,7.6 0 0 1 0,15.2 h-7.3 Z" fill="#8fa0b3"/>
<rect x="229.1" y="629.1" width="60.5" height="34.4" fill="#8fa0b3" stroke="none" stroke-width="0" rx="4.5"/>
<path d="M234.1,627.8 v-7 a7.35,7.35 0 0 1 14.7,0 v7 Z" fill="#8fa0b3"/>
<path d="M234.1,665 v7 a7.35,7.35 0 0 0 14.7,0 v-7 Z" fill="#8fa0b3"/>
<path d="M252.2,627.8 v-7 a7.35,7.35 0 0 1 14.7,0 v7 Z" fill="#8fa0b3"/>
<path d="M252.2,665 v7 a7.35,7.35 0 0 0 14.7,0 v-7 Z" fill="#8fa0b3"/>
<path d="M270.3,627.8 v-7 a7.35,7.35 0 0 1 14.7,0 v7 Z" fill="#8fa0b3"/>
<path d="M270.3,665 v7 a7.35,7.35 0 0 0 14.7,0 v-7 Z" fill="#8fa0b3"/>
<path d="M227.6,640.4 h-7.5 a7.6,7.6 0 0 0 0,15.2 h7.5 Z" fill="#8fa0b3"/>
<path d="M291.3,640.4 h7.3 a7.6,7.6 0 0 1 0,15.2 h-7.3 Z" fill="#8fa0b3"/>
<text x="206.4" y="704.7" font-size="21.26" textLength="145.2" lengthAdjust="spacingAndGlyphs" fill="#1c1c1c" stroke="#ffffff" stroke-width="0.3">DINING ROOM</text>
<polyline points="314,508 314,614.4 332.2,614.4 332.2,564.3" fill="none" stroke="#73818f" stroke-width="2.35" stroke-linejoin="miter"/>
<line x1="332.2" y1="565.2" x2="357.8" y2="565.2" stroke="#73818f" stroke-width="2.35" stroke-linecap="butt"/>
<line x1="332.2" y1="574.8" x2="357.8" y2="574.8" stroke="#73818f" stroke-width="2.35" stroke-linecap="butt"/>
<line x1="332.2" y1="585" x2="357.8" y2="585" stroke="#73818f" stroke-width="2.35" stroke-linecap="butt"/>
<line x1="332.2" y1="594.7" x2="357.8" y2="594.7" stroke="#73818f" stroke-width="2.35" stroke-linecap="butt"/>
<line x1="332.2" y1="604.7" x2="357.8" y2="604.7" stroke="#73818f" stroke-width="2.35" stroke-linecap="butt"/>
<line x1="206" y1="714.6" x2="206" y2="866" stroke="#73818f" stroke-width="2.35" stroke-linecap="butt"/>
<line x1="206" y1="719.9" x2="283.7" y2="719.9" stroke="#73818f" stroke-width="2.35" stroke-linecap="butt"/>
<line x1="178.8" y1="739.9" x2="178.8" y2="789.5" stroke="#73818f" stroke-width="2.35" stroke-linecap="butt"/>
<line x1="204.1" y1="738.7" x2="204.1" y2="789.5" stroke="#73818f" stroke-width="2.35" stroke-linecap="butt"/>
<line x1="178.8" y1="748.4" x2="205" y2="748.4" stroke="#73818f" stroke-width="2.35" stroke-linecap="butt"/>
<line x1="178.8" y1="758.7" x2="205" y2="758.7" stroke="#73818f" stroke-width="2.35" stroke-linecap="butt"/>
<line x1="178.8" y1="768.8" x2="205" y2="768.8" stroke="#73818f" stroke-width="2.35" stroke-linecap="butt"/>
<line x1="178.8" y1="779" x2="205" y2="779" stroke="#73818f" stroke-width="2.35" stroke-linecap="butt"/>
<line x1="178.8" y1="788.6" x2="205" y2="788.6" stroke="#73818f" stroke-width="2.35" stroke-linecap="butt"/>
<path d="M225.9,749.5 L225.9,729 Q225.9,725.9 229,725.9 L295.2,725.9 Q298.3,725.9 298.3,729 L298.3,749.5 Z" fill="#dcdde0"/>
<path d="M225.9,750 L225.9,729 Q225.9,725.9 229,725.9 L295.2,725.9 Q298.3,725.9 298.3,729 L298.3,750" fill="none" stroke="#7f8b97" stroke-width="2.8" stroke-linejoin="round" stroke-linecap="butt"/>
<line x1="251.6" y1="726" x2="251.6" y2="748.5" stroke="#7f8b97" stroke-width="2.2" stroke-linecap="butt"/>
<line x1="275.2" y1="726" x2="275.2" y2="748.5" stroke="#7f8b97" stroke-width="2.2" stroke-linecap="butt"/>
<path d="M234,757 L214,757 Q211,757 211,760 L211,834 Q211,837.2 214,837.2 L234,837.2 Z" fill="#dcdde0"/>
<path d="M234.5,757 L214,757 Q211,757 211,760 L211,834 Q211,837.2 214,837.2 L234.5,837.2" fill="none" stroke="#7f8b97" stroke-width="2.8" stroke-linejoin="round" stroke-linecap="butt"/>
<line x1="211" y1="782.6" x2="233.5" y2="782.6" stroke="#7f8b97" stroke-width="2.2" stroke-linecap="butt"/>
<line x1="211" y1="809.8" x2="233.5" y2="809.8" stroke="#7f8b97" stroke-width="2.2" stroke-linecap="butt"/>
<text x="236.5" y="789.1" font-size="23.11" textLength="90.5" lengthAdjust="spacingAndGlyphs" fill="#1c1c1c" stroke="#ffffff" stroke-width="0.3">LOUNGE</text>
<rect x="342.5" y="743.5" width="15.2" height="127" fill="#778796" stroke="none" stroke-width="0" rx="0"/>
<rect x="291.4" y="833.9" width="52" height="15.7" fill="#778796" stroke="none" stroke-width="0" rx="0"/>
<text x="296.3" y="831.3" font-size="22.96" textLength="44.4" lengthAdjust="spacingAndGlyphs" fill="#1c1c1c" stroke="#ffffff" stroke-width="0.3">BAR</text>
<line x1="358" y1="508" x2="358" y2="673.6" stroke="#73818f" stroke-width="2.35" stroke-linecap="butt"/>
<line x1="480.9" y1="508" x2="480.9" y2="673.6" stroke="#73818f" stroke-width="2.35" stroke-linecap="butt"/>
<line x1="605.7" y1="508" x2="605.7" y2="673.6" stroke="#73818f" stroke-width="2.35" stroke-linecap="butt"/>
<line x1="358" y1="537.2" x2="374.2" y2="537.2" stroke="#73818f" stroke-width="2.35" stroke-linecap="butt"/>
<line x1="392" y1="537.2" x2="582.2" y2="537.2" stroke="#73818f" stroke-width="2.35" stroke-linecap="butt"/>
<line x1="599.4" y1="537.2" x2="605.7" y2="537.2" stroke="#73818f" stroke-width="2.35" stroke-linecap="butt"/>
<line x1="356.9" y1="673.6" x2="387" y2="673.6" stroke="#73818f" stroke-width="2.35" stroke-linecap="butt"/>
<line x1="403.7" y1="673.6" x2="557.6" y2="673.6" stroke="#73818f" stroke-width="2.35" stroke-linecap="butt"/>
<line x1="575.4" y1="673.6" x2="606.8" y2="673.6" stroke="#73818f" stroke-width="2.35" stroke-linecap="butt"/>
<polyline points="409.2,630.5 409.2,625 552.9,625 552.9,630.5" fill="none" stroke="#73818f" stroke-width="2.35" stroke-linejoin="miter"/>
<line x1="408.9" y1="647.2" x2="408.9" y2="673.6" stroke="#73818f" stroke-width="2.35" stroke-linecap="butt"/>
<line x1="552.7" y1="647.2" x2="552.7" y2="673.6" stroke="#73818f" stroke-width="2.35" stroke-linecap="butt"/>
<path d="M404.8,673.6 L404.8,654 A18.4,19.6 0 0 0 386.4,673.6" fill="none" stroke="#73818f" stroke-width="2.35" stroke-linejoin="miter" stroke-linecap="butt"/>
<path d="M556.7,673.6 L556.7,654 A19.2,19.6 0 0 1 575.9,673.6" fill="none" stroke="#73818f" stroke-width="2.35" stroke-linejoin="miter" stroke-linecap="butt"/>
<text x="364.1" y="531.6" font-size="23.11" textLength="101.5" lengthAdjust="spacingAndGlyphs" fill="#1c1c1c" stroke="#f1f1f2" stroke-width="0.3">BALCONY</text>
<text x="491.3" y="531.6" font-size="23.11" textLength="100.8" lengthAdjust="spacingAndGlyphs" fill="#1c1c1c" stroke="#f1f1f2" stroke-width="0.3">BALCONY</text>
<text x="381.9" y="594" font-size="24.03" textLength="65.4" lengthAdjust="spacingAndGlyphs" fill="#1c1c1c" stroke="#f1f1f2" stroke-width="0.3">CABIN</text>
<text x="501.7" y="594" font-size="24.03" textLength="65.2" lengthAdjust="spacingAndGlyphs" fill="#1c1c1c" stroke="#f1f1f2" stroke-width="0.3">CABIN</text>
<text x="424.9" y="657.5" font-size="23.11" textLength="36.2" lengthAdjust="spacingAndGlyphs" fill="#1c1c1c" stroke="#f1f1f2" stroke-width="0.3">WC</text>
<text x="499.3" y="657.5" font-size="23.11" textLength="36.5" lengthAdjust="spacingAndGlyphs" fill="#1c1c1c" stroke="#f1f1f2" stroke-width="0.3">WC</text>
<line x1="358" y1="706" x2="358" y2="870" stroke="#73818f" stroke-width="2.35" stroke-linecap="butt"/>
<line x1="482.6" y1="705" x2="482.6" y2="871" stroke="#73818f" stroke-width="2.35" stroke-linecap="butt"/>
<line x1="356.9" y1="706" x2="387.3" y2="706" stroke="#73818f" stroke-width="2.35" stroke-linecap="butt"/>
<line x1="403.7" y1="706" x2="483.7" y2="706" stroke="#73818f" stroke-width="2.35" stroke-linecap="butt"/>
<line x1="409.2" y1="706" x2="409.2" y2="732.2" stroke="#73818f" stroke-width="2.35" stroke-linecap="butt"/>
<polyline points="410.1,749.7 410.1,753.4 482.6,753.4" fill="none" stroke="#73818f" stroke-width="2.35" stroke-linejoin="miter"/>
<path d="M404.8,706 L404.8,726.1 A17.7,20.1 0 0 1 387.1,706" fill="none" stroke="#73818f" stroke-width="2.35" stroke-linejoin="miter" stroke-linecap="butt"/>
<line x1="358" y1="842.8" x2="366.6" y2="842.8" stroke="#73818f" stroke-width="2.35" stroke-linecap="butt"/>
<line x1="381.5" y1="842.8" x2="482.6" y2="842.8" stroke="#73818f" stroke-width="2.35" stroke-linecap="butt"/>
<line x1="507.8" y1="754.8" x2="507.8" y2="805.6" stroke="#73818f" stroke-width="2.35" stroke-linecap="butt"/>
<line x1="482.6" y1="764.7" x2="507.8" y2="764.7" stroke="#73818f" stroke-width="2.35" stroke-linecap="butt"/>
<line x1="482.6" y1="774.7" x2="507.8" y2="774.7" stroke="#73818f" stroke-width="2.35" stroke-linecap="butt"/>
<line x1="482.6" y1="784.7" x2="507.8" y2="784.7" stroke="#73818f" stroke-width="2.35" stroke-linecap="butt"/>
<line x1="482.6" y1="794.7" x2="507.8" y2="794.7" stroke="#73818f" stroke-width="2.35" stroke-linecap="butt"/>
<line x1="482.6" y1="804.6" x2="507.8" y2="804.6" stroke="#73818f" stroke-width="2.35" stroke-linecap="butt"/>
<text x="424.9" y="740" font-size="23.11" textLength="36.4" lengthAdjust="spacingAndGlyphs" fill="#1c1c1c" stroke="#f1f1f2" stroke-width="0.3">WC</text>
<text x="387.1" y="809.4" font-size="24.34" textLength="65.3" lengthAdjust="spacingAndGlyphs" fill="#1c1c1c" stroke="#f1f1f2" stroke-width="0.3">CABIN</text>
<text x="368.7" y="865.3" font-size="22.65" textLength="101.8" lengthAdjust="spacingAndGlyphs" fill="#1c1c1c" stroke="#f1f1f2" stroke-width="0.3">BALCONY</text>
<polyline points="532,857 532,692.3 609.4,692.3" fill="none" stroke="#73818f" stroke-width="2.35" stroke-linejoin="miter"/>
<polyline points="626.8,692.3 656.2,692.3 656.2,827.9 636.4,827.9 636.4,858.5" fill="none" stroke="#73818f" stroke-width="2.35" stroke-linejoin="miter"/>
<polyline points="532,753.4 603.6,753.4 603.6,749.7" fill="none" stroke="#73818f" stroke-width="2.35" stroke-linejoin="miter"/>
<line x1="603.6" y1="707.7" x2="603.6" y2="732.8" stroke="#73818f" stroke-width="2.35" stroke-linecap="butt"/>
<path d="M608.4,692.3 L608.4,710.7 A18.4,18.4 0 0 0 626.8,692.3" fill="none" stroke="#73818f" stroke-width="2.35" stroke-linejoin="miter" stroke-linecap="butt"/>
<line x1="532" y1="842.5" x2="611.8" y2="842.5" stroke="#73818f" stroke-width="2.35" stroke-linecap="butt"/>
<text x="547.6" y="726" font-size="23.42" textLength="36.8" lengthAdjust="spacingAndGlyphs" fill="#1c1c1c" stroke="#f1f1f2" stroke-width="0.3">WC</text>
<text x="561.6" y="809.4" font-size="24.34" textLength="65.3" lengthAdjust="spacingAndGlyphs" fill="#1c1c1c" stroke="#f1f1f2" stroke-width="0.3">CABIN</text>
<text x="533.3" y="865.1" font-size="22.65" textLength="100" lengthAdjust="spacingAndGlyphs" fill="#1c1c1c" stroke="#f1f1f2" stroke-width="0.3">BALCONY</text>
<polyline points="625.1,508 625.1,536.4 636,536.4" fill="none" stroke="#73818f" stroke-width="2.35" stroke-linejoin="miter"/>
<path d="M636,535 A15.6,14 0 0 1 651.6,520.7 L654.4,520.7" fill="none" stroke="#73818f" stroke-width="2.35" stroke-linejoin="round" stroke-linecap="butt"/>
<line x1="654.4" y1="519.7" x2="654.4" y2="651.5" stroke="#73818f" stroke-width="2.35" stroke-linecap="butt"/>
<polyline points="692.1,821 692.1,841.8 656.2,841.8 656.2,869.5" fill="none" stroke="#73818f" stroke-width="2.35" stroke-linejoin="miter"/>
<line x1="653.4" y1="536" x2="692.2" y2="536" stroke="#73818f" stroke-width="2.35" stroke-linecap="butt"/>
<line x1="691.1" y1="536" x2="691.1" y2="580.2" stroke="#73818f" stroke-width="2.35" stroke-linecap="butt"/>
<polyline points="654.4,601.3 690.6,601.3 690.6,598.3" fill="none" stroke="#73818f" stroke-width="2.35" stroke-linejoin="miter"/>
<path d="M691.1,558.2 L762.4,558.2 C775,558.5 779,560 781,564.5 C786,590 790.5,634 791.4,673.2" fill="none" stroke="#73818f" stroke-width="2.35" stroke-linejoin="round" stroke-linecap="butt"/>
<line x1="653.4" y1="673.1" x2="792.4" y2="673.1" stroke="#73818f" stroke-width="2.35" stroke-linecap="butt"/>
<path d="M654.3,651 A20.3,17.7 0 0 1 674.7,668.7 L654.3,668.7" fill="none" stroke="#73818f" stroke-width="2.35" stroke-linejoin="miter" stroke-linecap="butt"/>
<text transform="translate(666.4,549.5) rotate(90)" x="0" y="0" font-size="21.78" textLength="36.2" lengthAdjust="spacingAndGlyphs" fill="#1c1c1c" stroke="#f1f1f2" stroke-width="0.3">WC</text>
<text x="686.6" y="637.5" font-size="23.11" textLength="65.8" lengthAdjust="spacingAndGlyphs" fill="#1c1c1c" stroke="#f1f1f2" stroke-width="0.3">CABIN</text>
<line x1="680.6" y1="695.5" x2="680.6" y2="822" stroke="#73818f" stroke-width="2.35" stroke-linecap="butt"/>
<line x1="679.5" y1="672.5" x2="679.5" y2="678.5" stroke="#73818f" stroke-width="2.35" stroke-linecap="butt"/>
<path d="M679.5,677.5 L699,677.5 A19,18.4 0 0 1 680.6,695.9" fill="none" stroke="#73818f" stroke-width="2.35" stroke-linejoin="miter" stroke-linecap="butt"/>
<path d="M680.6,821 L764,821 C773,821 780,819.5 783,813 C788,780 790.5,725 791.4,673.2" fill="none" stroke="#73818f" stroke-width="2.35" stroke-linejoin="round" stroke-linecap="butt"/>
<polyline points="680.6,755.7 717.4,755.7 717.4,758.9" fill="none" stroke="#73818f" stroke-width="2.35" stroke-linejoin="miter"/>
<line x1="716.6" y1="776.6" x2="716.6" y2="821" stroke="#73818f" stroke-width="2.35" stroke-linecap="butt"/>
<text x="696.1" y="730.1" font-size="23.57" textLength="65.3" lengthAdjust="spacingAndGlyphs" fill="#1c1c1c" stroke="#f1f1f2" stroke-width="0.3">CABIN</text>
<text transform="translate(691.2,772.5) rotate(90)" x="0" y="0" font-size="21.21" textLength="36.3" lengthAdjust="spacingAndGlyphs" fill="#1c1c1c" stroke="#f1f1f2" stroke-width="0.3">WC</text>
<line x1="795.7" y1="676.5" x2="846.5" y2="676.5" stroke="#73818f" stroke-width="2.35" stroke-linecap="butt"/>
<line x1="795.7" y1="700.4" x2="846.5" y2="700.4" stroke="#73818f" stroke-width="2.35" stroke-linecap="butt"/>
<line x1="796.6" y1="676.5" x2="796.6" y2="700.4" stroke="#73818f" stroke-width="2.35" stroke-linecap="butt"/>
<line x1="806.5" y1="676.5" x2="806.5" y2="700.4" stroke="#73818f" stroke-width="2.35" stroke-linecap="butt"/>
<line x1="817" y1="676.5" x2="817" y2="700.4" stroke="#73818f" stroke-width="2.35" stroke-linecap="butt"/>
<line x1="827.4" y1="676.5" x2="827.4" y2="700.4" stroke="#73818f" stroke-width="2.35" stroke-linecap="butt"/>
<line x1="838" y1="676.5" x2="838" y2="700.4" stroke="#73818f" stroke-width="2.35" stroke-linecap="butt"/>
</svg>
</body></html>
